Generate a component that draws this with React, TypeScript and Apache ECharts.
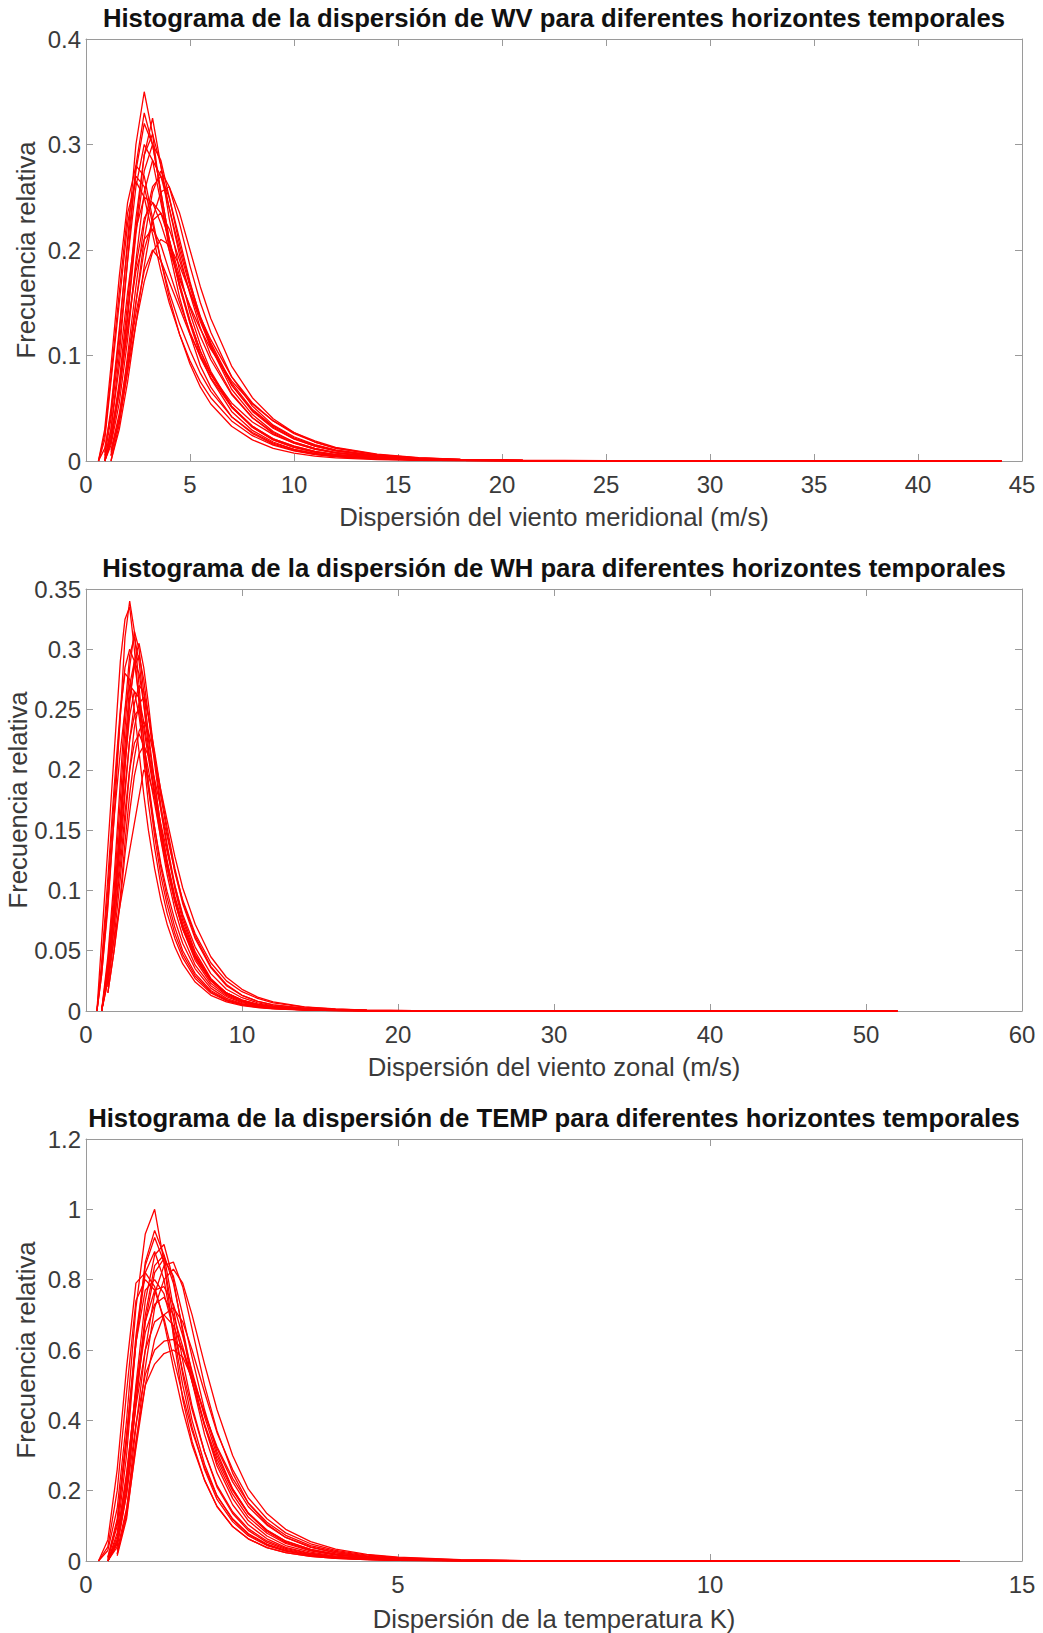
import React, { useEffect, useRef } from "react";
import * as echarts from "echarts";

// ---- Dispersión del viento meridional (WV) ----
const wvX = [0.6, 0.9, 1.2, 1.6, 2.0, 2.4, 2.8, 3.2, 3.6, 4.0, 4.5, 5.0, 5.5, 6.0, 7.0, 8.0, 9.0, 10, 11, 12, 14, 16, 18, 21, 25, 30, 35, 40, 44];
const wvCurves: (number | null)[][] = [
  [0, 0.012, 0.045, 0.12, 0.21, 0.3, 0.35, 0.31, 0.25, 0.2, 0.155, 0.12, 0.09, 0.07, 0.042, 0.026, 0.016, 0.01, 0.0065, 0.0045, 0.002, 0.001, 0.0005, 0.0002, 0.0001, 0, 0, 0, 0],
  [null, 0, 0.03, 0.1, 0.19, 0.28, 0.33, 0.3, 0.255, 0.21, 0.165, 0.13, 0.1, 0.078, 0.047, 0.029, 0.018, 0.011, 0.007, 0.005, 0.0022, 0.0011, 0.0005, 0.0002, 0.0001, 0, 0, 0, 0],
  [null, 0, 0.02, 0.07, 0.14, 0.22, 0.29, 0.325, 0.28, 0.23, 0.18, 0.14, 0.11, 0.085, 0.052, 0.032, 0.02, 0.013, 0.0085, 0.006, 0.0028, 0.0013, 0.0006, 0.0003, 0.0001, 0, 0, 0, 0],
  [0, 0.02, 0.075, 0.15, 0.225, 0.27, 0.26, 0.225, 0.19, 0.16, 0.13, 0.105, 0.083, 0.066, 0.042, 0.027, 0.017, 0.011, 0.0072, 0.0048, 0.0022, 0.001, 0.0005, 0.0002, 0.0001, 0, 0, 0, 0],
  [0, 0.025, 0.08, 0.16, 0.235, 0.265, 0.25, 0.215, 0.18, 0.15, 0.12, 0.095, 0.075, 0.06, 0.038, 0.024, 0.015, 0.0095, 0.006, 0.004, 0.0018, 0.0008, 0.0004, 0.0002, 0, 0, 0, 0, 0],
  [null, 0, 0.015, 0.055, 0.115, 0.19, 0.255, 0.285, 0.27, 0.24, 0.2, 0.165, 0.135, 0.11, 0.072, 0.047, 0.031, 0.021, 0.014, 0.0095, 0.0045, 0.0022, 0.0011, 0.0005, 0.0002, 0.0001, 0, 0, 0],
  [null, null, 0, 0.035, 0.085, 0.15, 0.21, 0.255, 0.275, 0.26, 0.225, 0.185, 0.15, 0.122, 0.08, 0.052, 0.034, 0.023, 0.0155, 0.0105, 0.005, 0.0024, 0.0012, 0.0005, 0.0002, 0.0001, 0, 0, 0],
  [null, null, 0, 0.03, 0.075, 0.13, 0.185, 0.23, 0.255, 0.26, 0.235, 0.2, 0.165, 0.135, 0.09, 0.06, 0.04, 0.027, 0.018, 0.012, 0.0058, 0.0028, 0.0014, 0.0006, 0.0002, 0.0001, 0, 0, 0],
  [null, 0, 0.02, 0.065, 0.125, 0.185, 0.23, 0.245, 0.235, 0.21, 0.175, 0.145, 0.118, 0.096, 0.063, 0.041, 0.027, 0.018, 0.012, 0.008, 0.0038, 0.0018, 0.0009, 0.0004, 0.0001, 0, 0, 0, 0],
  [null, null, 0.01, 0.045, 0.095, 0.15, 0.2, 0.228, 0.235, 0.22, 0.19, 0.16, 0.132, 0.108, 0.072, 0.048, 0.032, 0.021, 0.014, 0.0095, 0.0045, 0.0021, 0.001, 0.0004, 0.0001, 0, 0, 0, 0],
  [null, 0, 0.025, 0.07, 0.125, 0.18, 0.21, 0.22, 0.205, 0.18, 0.15, 0.122, 0.098, 0.079, 0.051, 0.033, 0.021, 0.014, 0.009, 0.006, 0.0028, 0.0013, 0.0006, 0.0002, 0.0001, 0, 0, 0, 0],
  [null, null, 0.005, 0.04, 0.09, 0.14, 0.18, 0.2, 0.19, 0.17, 0.145, 0.12, 0.1, 0.082, 0.055, 0.037, 0.025, 0.017, 0.0115, 0.008, 0.0038, 0.0018, 0.0009, 0.0004, 0.0001, 0, 0, 0, 0],
  [null, 0.005, 0.04, 0.11, 0.19, 0.26, 0.3, 0.285, 0.245, 0.205, 0.165, 0.132, 0.104, 0.083, 0.052, 0.033, 0.021, 0.014, 0.009, 0.006, 0.0027, 0.0012, 0.0006, 0.0002, 0.0001, 0, 0, 0, 0],
  [null, 0, 0.02, 0.075, 0.15, 0.23, 0.29, 0.31, 0.28, 0.24, 0.195, 0.158, 0.126, 0.1, 0.064, 0.041, 0.026, 0.017, 0.011, 0.0075, 0.0035, 0.0016, 0.0008, 0.0003, 0.0001, 0, 0, 0, 0],
  [null, 0.003, 0.03, 0.09, 0.16, 0.22, 0.25, 0.245, 0.225, 0.2, 0.172, 0.147, 0.125, 0.106, 0.076, 0.054, 0.038, 0.027, 0.019, 0.013, 0.0065, 0.0032, 0.0016, 0.0007, 0.0003, 0.0001, 0.00005, 0, 0],
  [0, 0.03, 0.09, 0.175, 0.245, 0.28, 0.27, 0.23, 0.19, 0.155, 0.12, 0.092, 0.07, 0.054, 0.033, 0.02, 0.012, 0.0075, 0.0047, 0.003, 0.0013, 0.0006, 0.0003, 0.0001, 0, 0, 0, 0, 0],
  [null, 0, 0.018, 0.065, 0.135, 0.215, 0.275, 0.3, 0.285, 0.25, 0.205, 0.168, 0.137, 0.112, 0.074, 0.049, 0.033, 0.022, 0.015, 0.01, 0.0048, 0.0023, 0.0011, 0.0005, 0.0002, 0.0001, 0, 0, 0],
  [null, null, 0.005, 0.04, 0.1, 0.165, 0.225, 0.26, 0.27, 0.25, 0.21, 0.17, 0.135, 0.108, 0.068, 0.044, 0.028, 0.018, 0.012, 0.008, 0.0037, 0.0017, 0.0008, 0.0003, 0.0001, 0, 0, 0, 0],
  [null, 0.008, 0.05, 0.125, 0.205, 0.275, 0.32, 0.3, 0.255, 0.21, 0.168, 0.133, 0.104, 0.082, 0.051, 0.032, 0.02, 0.013, 0.0085, 0.0058, 0.0026, 0.0012, 0.0006, 0.0002, 0.0001, 0, 0, 0, 0],
  [null, null, 0.008, 0.04, 0.085, 0.13, 0.17, 0.198, 0.21, 0.205, 0.185, 0.16, 0.136, 0.115, 0.08, 0.055, 0.038, 0.026, 0.018, 0.0125, 0.006, 0.003, 0.0015, 0.0006, 0.0002, 0.0001, 0, 0, 0],
];

// ---- Dispersión del viento zonal (WH) ----
const whX = [0.7, 1.0, 1.4, 1.8, 2.2, 2.5, 2.8, 3.1, 3.4, 3.7, 4.0, 4.4, 4.8, 5.2, 5.7, 6.2, 7.0, 8.0, 9.0, 10, 11, 12, 14, 16, 18, 21, 25, 30, 35, 40, 45, 52];
const whCurves: (number | null)[][] = [
  [0, 0.03, 0.085, 0.16, 0.245, 0.31, 0.34, 0.315, 0.27, 0.225, 0.185, 0.145, 0.112, 0.088, 0.064, 0.047, 0.029, 0.016, 0.009, 0.0055, 0.0035, 0.0022, 0.001, 0.0005, 0.0002, 0.0001, 0, 0, 0, 0, 0, 0],
  [null, 0, 0.04, 0.1, 0.175, 0.235, 0.285, 0.315, 0.3, 0.265, 0.23, 0.19, 0.152, 0.122, 0.092, 0.068, 0.042, 0.023, 0.013, 0.0075, 0.0045, 0.0028, 0.0012, 0.0006, 0.0003, 0.0001, 0, 0, 0, 0, 0, 0],
  [null, 0, 0.03, 0.08, 0.145, 0.2, 0.255, 0.29, 0.305, 0.285, 0.255, 0.21, 0.17, 0.138, 0.104, 0.078, 0.049, 0.027, 0.015, 0.009, 0.0055, 0.0034, 0.0015, 0.0007, 0.0003, 0.0001, 0, 0, 0, 0, 0, 0],
  [0, 0.04, 0.11, 0.185, 0.25, 0.28, 0.275, 0.25, 0.215, 0.18, 0.15, 0.118, 0.092, 0.072, 0.053, 0.039, 0.024, 0.013, 0.0075, 0.0045, 0.0028, 0.0018, 0.0008, 0.0004, 0.0002, 0.0001, 0, 0, 0, 0, 0, 0],
  [null, 0, 0.035, 0.09, 0.16, 0.22, 0.27, 0.29, 0.28, 0.255, 0.225, 0.188, 0.153, 0.125, 0.095, 0.072, 0.046, 0.026, 0.015, 0.009, 0.0055, 0.0035, 0.0016, 0.0008, 0.0004, 0.0001, 0.00005, 0, 0, 0, 0, 0],
  [null, 0, 0.025, 0.07, 0.13, 0.18, 0.225, 0.255, 0.27, 0.265, 0.245, 0.212, 0.178, 0.148, 0.115, 0.089, 0.06, 0.036, 0.021, 0.013, 0.008, 0.005, 0.0023, 0.0011, 0.0005, 0.0002, 0.0001, 0, 0, 0, 0, 0],
  [null, null, 0.02, 0.06, 0.11, 0.155, 0.2, 0.235, 0.255, 0.26, 0.245, 0.215, 0.182, 0.152, 0.118, 0.091, 0.062, 0.037, 0.022, 0.013, 0.008, 0.005, 0.0022, 0.001, 0.0005, 0.0002, 0.0001, 0, 0, 0, 0, 0],
  [null, 0, 0.03, 0.08, 0.14, 0.185, 0.225, 0.245, 0.25, 0.235, 0.21, 0.178, 0.147, 0.12, 0.091, 0.069, 0.044, 0.025, 0.014, 0.0085, 0.0052, 0.0033, 0.0015, 0.0007, 0.0003, 0.0001, 0, 0, 0, 0, 0, 0],
  [null, 0, 0.025, 0.07, 0.12, 0.165, 0.2, 0.222, 0.23, 0.22, 0.2, 0.172, 0.143, 0.118, 0.09, 0.068, 0.044, 0.025, 0.014, 0.0085, 0.0052, 0.0033, 0.0015, 0.0007, 0.0003, 0.0001, 0, 0, 0, 0, 0, 0],
  [null, 0, null, null, null, null, null, null, null, 0.2, 0.195, 0.178, 0.155, 0.132, 0.104, 0.08, 0.053, 0.031, 0.018, 0.011, 0.0068, 0.0043, 0.002, 0.001, 0.0005, 0.0002, 0.0001, 0, 0, 0, 0, 0],
  [0, null, null, null, 0.29, 0.325, 0.335, 0.3, 0.255, 0.21, 0.172, 0.135, 0.104, 0.081, 0.06, 0.044, 0.027, 0.015, 0.0085, 0.005, 0.003, 0.0019, 0.0009, 0.0004, 0.0002, 0.0001, 0, 0, 0, 0, 0, 0],
  [null, 0, 0.03, 0.085, 0.15, 0.21, 0.26, 0.285, 0.295, 0.275, 0.245, 0.205, 0.166, 0.135, 0.101, 0.075, 0.047, 0.026, 0.0145, 0.0085, 0.0052, 0.0033, 0.0014, 0.0007, 0.0003, 0.0001, 0, 0, 0, 0, 0, 0],
  [0, 0.03, 0.09, 0.16, 0.215, 0.25, 0.27, 0.265, 0.245, 0.215, 0.185, 0.152, 0.122, 0.099, 0.075, 0.056, 0.035, 0.019, 0.0105, 0.0062, 0.0038, 0.0024, 0.001, 0.0005, 0.0002, 0.0001, 0, 0, 0, 0, 0, 0],
  [null, null, 0.015, 0.05, 0.095, 0.14, 0.18, 0.21, 0.232, 0.24, 0.232, 0.21, 0.183, 0.158, 0.128, 0.102, 0.072, 0.045, 0.028, 0.018, 0.0115, 0.0075, 0.0035, 0.0017, 0.0008, 0.0003, 0.0001, 0.00005, 0, 0, 0, 0],
  [null, 0, 0.045, 0.11, 0.19, 0.25, 0.295, 0.31, 0.29, 0.255, 0.218, 0.178, 0.142, 0.113, 0.084, 0.062, 0.038, 0.021, 0.012, 0.007, 0.0042, 0.0026, 0.0011, 0.0005, 0.0002, 0.0001, 0, 0, 0, 0, 0, 0],
  [null, 0, 0.035, 0.09, 0.155, 0.205, 0.245, 0.265, 0.26, 0.24, 0.215, 0.182, 0.15, 0.123, 0.093, 0.07, 0.045, 0.026, 0.015, 0.009, 0.0056, 0.0036, 0.0016, 0.0008, 0.0004, 0.0001, 0, 0, 0, 0, 0, 0],
  [null, null, 0.015, 0.05, 0.09, 0.13, 0.165, 0.195, 0.213, 0.22, 0.212, 0.192, 0.168, 0.145, 0.116, 0.092, 0.064, 0.04, 0.025, 0.016, 0.0105, 0.0068, 0.0032, 0.0016, 0.0008, 0.0003, 0.0001, 0, 0, 0, 0, 0],
  [0, 0.035, 0.1, 0.175, 0.245, 0.285, 0.3, 0.29, 0.26, 0.225, 0.19, 0.152, 0.119, 0.094, 0.069, 0.05, 0.031, 0.017, 0.0095, 0.0056, 0.0034, 0.0021, 0.0009, 0.0004, 0.0002, 0.0001, 0, 0, 0, 0, 0, 0],
];

// ---- Dispersión de la temperatura (TEMP) ----
const tempX = [0.2, 0.35, 0.5, 0.65, 0.8, 0.95, 1.1, 1.25, 1.4, 1.55, 1.7, 1.9, 2.1, 2.35, 2.6, 2.9, 3.2, 3.6, 4.0, 4.5, 5.0, 6.0, 7.0, 8.0, 10, 12, 14];
const tempCurves: (number | null)[][] = [
  [0, 0.03, 0.15, 0.4, 0.72, 0.93, 1.0, 0.85, 0.64, 0.46, 0.34, 0.23, 0.155, 0.098, 0.063, 0.038, 0.024, 0.013, 0.0075, 0.0038, 0.002, 0.0006, 0.0002, 0.0001, 0, 0, 0],
  [null, 0, 0.08, 0.3, 0.62, 0.85, 0.94, 0.87, 0.72, 0.57, 0.44, 0.31, 0.21, 0.135, 0.087, 0.053, 0.033, 0.018, 0.0105, 0.0055, 0.003, 0.0009, 0.0003, 0.0001, 0, 0, 0],
  [null, 0, 0.05, 0.22, 0.5, 0.74, 0.87, 0.9, 0.8, 0.65, 0.51, 0.36, 0.25, 0.16, 0.103, 0.063, 0.039, 0.022, 0.0125, 0.0065, 0.0035, 0.001, 0.0003, 0.0001, 0, 0, 0],
  [null, 0, 0.05, 0.2, 0.45, 0.68, 0.82, 0.86, 0.81, 0.7, 0.58, 0.43, 0.31, 0.205, 0.135, 0.084, 0.053, 0.03, 0.018, 0.0095, 0.005, 0.0015, 0.0005, 0.0002, 0.0001, 0, 0],
  [null, null, 0.02, 0.14, 0.38, 0.6, 0.76, 0.84, 0.85, 0.78, 0.66, 0.5, 0.37, 0.25, 0.165, 0.105, 0.067, 0.039, 0.023, 0.012, 0.0065, 0.002, 0.0006, 0.0002, 0.0001, 0, 0],
  [0, 0.06, 0.26, 0.55, 0.79, 0.82, 0.78, 0.68, 0.55, 0.43, 0.33, 0.23, 0.155, 0.098, 0.063, 0.038, 0.024, 0.013, 0.0075, 0.0038, 0.002, 0.0006, 0.0002, 0.0001, 0, 0, 0],
  [null, 0.01, 0.12, 0.36, 0.62, 0.77, 0.8, 0.76, 0.66, 0.54, 0.43, 0.31, 0.215, 0.14, 0.092, 0.057, 0.036, 0.02, 0.0115, 0.006, 0.0032, 0.001, 0.0003, 0.0001, 0, 0, 0],
  [null, 0, 0.07, 0.25, 0.48, 0.65, 0.73, 0.75, 0.7, 0.61, 0.51, 0.385, 0.28, 0.19, 0.125, 0.079, 0.05, 0.029, 0.017, 0.009, 0.0048, 0.0015, 0.0005, 0.0002, 0.0001, 0, 0],
  [null, 0, 0.06, 0.22, 0.44, 0.6, 0.68, 0.7, 0.67, 0.6, 0.51, 0.39, 0.29, 0.2, 0.135, 0.087, 0.056, 0.033, 0.019, 0.01, 0.0055, 0.0017, 0.0005, 0.0002, 0.0001, 0, 0],
  [null, 0, 0.05, 0.19, 0.39, 0.53, 0.6, 0.625, 0.63, 0.6, 0.53, 0.42, 0.32, 0.225, 0.155, 0.102, 0.067, 0.04, 0.024, 0.013, 0.007, 0.0022, 0.0007, 0.0002, 0.0001, 0, 0],
  [null, null, 0.03, 0.15, 0.34, 0.5, 0.56, 0.59, 0.6, 0.58, 0.52, 0.42, 0.325, 0.235, 0.165, 0.11, 0.073, 0.044, 0.027, 0.0145, 0.008, 0.0025, 0.0008, 0.0003, 0.0001, 0, 0],
  [null, 0.005, 0.1, 0.34, 0.62, 0.82, 0.88, 0.8, 0.65, 0.5, 0.38, 0.26, 0.175, 0.112, 0.072, 0.044, 0.028, 0.015, 0.0088, 0.0045, 0.0024, 0.0007, 0.0002, 0.0001, 0, 0, 0],
  [null, null, 0.015, 0.12, 0.33, 0.55, 0.72, 0.8, 0.83, 0.79, 0.7, 0.56, 0.43, 0.3, 0.205, 0.135, 0.09, 0.055, 0.034, 0.019, 0.011, 0.0038, 0.0013, 0.0005, 0.0002, 0.0001, 0],
  [null, 0, 0.06, 0.24, 0.49, 0.68, 0.77, 0.78, 0.73, 0.64, 0.54, 0.41, 0.3, 0.205, 0.137, 0.088, 0.057, 0.033, 0.02, 0.0105, 0.0057, 0.0018, 0.0006, 0.0002, 0.0001, 0, 0],
  [null, 0.01, 0.11, 0.35, 0.64, 0.84, 0.92, 0.85, 0.69, 0.53, 0.4, 0.275, 0.185, 0.118, 0.076, 0.046, 0.029, 0.016, 0.0093, 0.0048, 0.0026, 0.0008, 0.0002, 0.0001, 0, 0, 0],
  [null, null, 0.02, 0.13, 0.32, 0.5, 0.63, 0.7, 0.72, 0.68, 0.6, 0.48, 0.365, 0.26, 0.18, 0.12, 0.08, 0.049, 0.03, 0.017, 0.0095, 0.003, 0.001, 0.0004, 0.0001, 0, 0],
  [0, 0.04, 0.2, 0.48, 0.74, 0.8, 0.77, 0.69, 0.58, 0.47, 0.37, 0.265, 0.185, 0.12, 0.078, 0.048, 0.03, 0.017, 0.0098, 0.005, 0.0027, 0.0008, 0.0003, 0.0001, 0, 0, 0],
  [null, 0, 0.04, 0.19, 0.45, 0.7, 0.84, 0.87, 0.79, 0.66, 0.53, 0.385, 0.27, 0.178, 0.115, 0.071, 0.044, 0.025, 0.014, 0.0073, 0.0039, 0.0012, 0.0004, 0.0001, 0, 0, 0],
];

// Panel texts and axis ranges
const titles = [
  "Histograma de la dispersión de WV para diferentes horizontes temporales",
  "Histograma de la dispersión de WH para diferentes horizontes temporales",
  "Histograma de la dispersión de TEMP para diferentes horizontes temporales",
];
const xNames = [
  "Dispersión del viento meridional (m/s)",
  "Dispersión del viento zonal (m/s)",
  "Dispersión de la temperatura K)",
];
const yName = "Frecuencia relativa";
const xMax = [45, 60, 15];
const xStep = [5, 10, 5];
const yMax = [0.4, 0.35, 1.2];
const yStep = [0.1, 0.05, 0.2];

const FONT = '"Liberation Sans", Arial, Helvetica, sans-serif';
const AXIS_GRAY = "#9a9a9a";
const LABEL_GRAY = "#3a3a3a";
const TICK_FONT = 24;
const NAME_FONT = 25.7;
const PLOT_LEFT = 86;
const PLOT_WIDTH = 936;
const PLOT_HEIGHT = 422;
const PLOT_TOPS = [39, 589, 1139];
const Y_NAME_GAPS = [47, 55, 47];
const X_NAME_GAPS = [43, 43, 45];

function buildOption() {
  const panels = [
    { x: wvX, curves: wvCurves },
    { x: whX, curves: whCurves },
    { x: tempX, curves: tempCurves },
  ];
  const grid: any[] = [];
  const xAxis: any[] = [];
  const yAxis: any[] = [];
  const series: any[] = [];
  const graphic: any[] = [];

  panels.forEach((p, k) => {
    grid.push({
      left: PLOT_LEFT, top: PLOT_TOPS[k], width: PLOT_WIDTH, height: PLOT_HEIGHT,
      containLabel: false, outerBoundsMode: "none",
    });
    const line = { show: true, onZero: false, lineStyle: { color: AXIS_GRAY, width: 1 } };
    const tick = { show: true, inside: true, length: 7, lineStyle: { color: AXIS_GRAY, width: 1 } };
    const label = { color: LABEL_GRAY, fontSize: TICK_FONT, fontFamily: FONT };
    const nameStyle = { color: LABEL_GRAY, fontSize: NAME_FONT, fontFamily: FONT };
    xAxis.push({
      type: "value", gridIndex: k, position: "bottom", min: 0, max: xMax[k], interval: xStep[k],
      axisLine: line, axisTick: tick, splitLine: { show: false },
      axisLabel: { ...label, margin: 11 },
      name: xNames[k], nameLocation: "middle", nameGap: X_NAME_GAPS[k], nameTextStyle: nameStyle,
      nameMoveOverlap: false,
    });
    xAxis.push({
      type: "value", gridIndex: k, position: "top", min: 0, max: xMax[k], interval: xStep[k],
      axisLine: line, axisTick: tick, splitLine: { show: false }, axisLabel: { show: false },
    });
    yAxis.push({
      type: "value", gridIndex: k, position: "left", min: 0, max: yMax[k], interval: yStep[k],
      axisLine: line, axisTick: tick, splitLine: { show: false },
      axisLabel: { ...label, margin: 5 },
      name: yName, nameLocation: "middle", nameGap: Y_NAME_GAPS[k], nameTextStyle: nameStyle,
      nameMoveOverlap: false,
    });
    yAxis.push({
      type: "value", gridIndex: k, position: "right", min: 0, max: yMax[k], interval: yStep[k],
      axisLine: line, axisTick: tick, splitLine: { show: false }, axisLabel: { show: false },
    });
    p.curves.forEach((ys) => {
      series.push({
        type: "line",
        xAxisIndex: 2 * k,
        yAxisIndex: 2 * k,
        data: p.x.map((x, i) => [x, ys[i] === undefined ? null : ys[i]]),
        showSymbol: false,
        symbol: "none",
        connectNulls: true,
        lineStyle: { color: "#ff0000", width: 1.3 },
        emphasis: { disabled: true },
        silent: true,
      });
    });
    graphic.push({
      type: "text",
      x: PLOT_LEFT + PLOT_WIDTH / 2,
      y: PLOT_TOPS[k] - 21,
      style: {
        text: titles[k], fill: "#111", font: `bold ${NAME_FONT}px ${FONT}`,
        textAlign: "center", textVerticalAlign: "middle",
      },
    });
  });

  return { animation: false, backgroundColor: "#ffffff", grid, xAxis, yAxis, series, graphic };
}

export default function App() {
  const ref = useRef<HTMLDivElement>(null);
  useEffect(() => {
    document.body.style.margin = "0";
    const chart = echarts.init(ref.current!, null, { renderer: "svg" });
    chart.setOption(buildOption());
    return () => chart.dispose();
  }, []);
  return <div ref={ref} style={{ width: 1043, height: 1633 }} />;
}
